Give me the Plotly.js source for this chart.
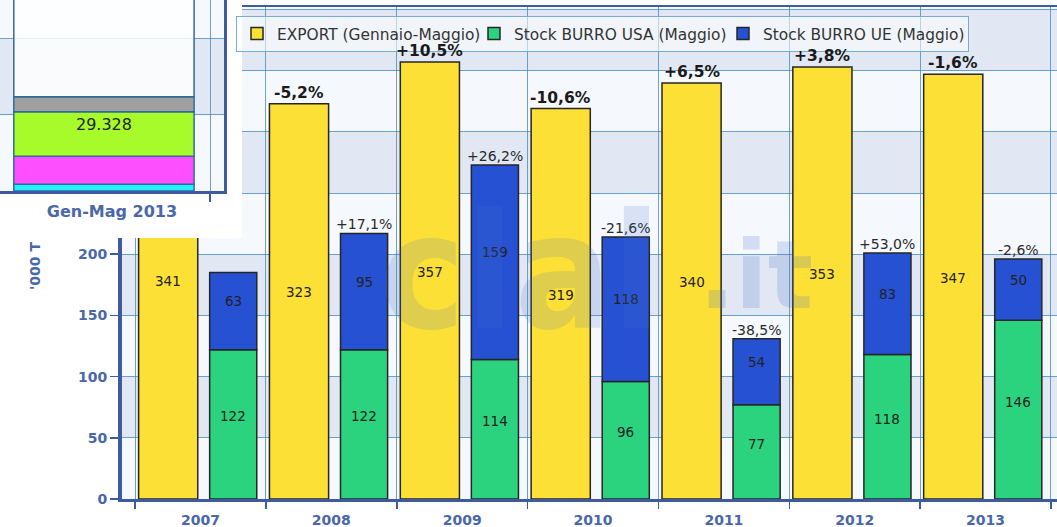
<!DOCTYPE html>
<html>
<head>
<meta charset="utf-8">
<script src="https://cdn.plot.ly/plotly-3.0.1.min.js"></script>
<style>html,body{margin:0;padding:0;background:#fff;}#chart{width:1057px;height:527px;}</style>
</head>
<body>
<div id="chart"></div>
<script>
// ---- data ----
const years = ['2007', '2008', '2009', '2010', '2011', '2012', '2013'];
const exportVals = [341, 323, 357, 319, 340, 353, 347];
const usaVals = [122, 122, 114, 96, 77, 118, 146];
const ueVals = [63, 95, 159, 118, 54, 83, 50];
const exportPct = ['', '-5,2%', '+10,5%', '-10,6%', '+6,5%', '+3,8%', '-1,6%'];
const stockPct = ['', '+17,1%', '+26,2%', '-21,6%', '-38,5%', '+53,0%', '-2,6%'];
const seriesNames = ['EXPORT (Gennaio-Maggio)', 'Stock BURRO USA (Maggio)', 'Stock BURRO UE (Maggio)'];

// inset (pasted fragment of another chart)
const insetCategory = ['Gen-Mag 2013'];
const insetValues = [4500, 18300, 29328, 9800, 90000];
const insetLabels = ['', '', '29.328', '', ''];

// ---- styling ----
const W = 1057, H = 527;
const plotL = 122, plotT = 7, plotB = 499;
const xRange = [-0.6, 6.546];
const yRange = [0, 402];
const xIdx = years.map((_, i) => i);
const expOffset = -0.473, expWidth = 0.452;
const stkOffset = 0.07, stkWidth = 0.36;
const axisBlue = '#3f5ba0';
const tickBlue = '#4a68a8';
const gridCol = 'rgba(60,135,190,0.75)';
const bandCol = '#e1e8f3';
const font = 'DejaVu Sans, Verdana, sans-serif';
const outline = {color: '#262626', width: 1.5};

const traces = [
  {type: 'bar', name: seriesNames[0], x: xIdx, y: exportVals, offset: expOffset, width: expWidth, legendwidth: 192,
   marker: {color: '#fde035', line: outline}, xaxis: 'x', yaxis: 'y', hoverinfo: 'y'},
  {type: 'bar', name: seriesNames[1], x: xIdx, y: usaVals, offset: stkOffset, width: stkWidth, legendwidth: 204,
   marker: {color: '#2bd37f', line: outline}, xaxis: 'x', yaxis: 'y', hoverinfo: 'y'},
  {type: 'bar', name: seriesNames[2], x: xIdx, y: ueVals, base: usaVals, offset: stkOffset, width: stkWidth, legendwidth: 200,
   marker: {color: '#2651d3', line: outline}, xaxis: 'x', yaxis: 'y', hoverinfo: 'y'},
  // cover for pasted inset
  {type: 'scatter', x: [], y: [], xaxis: 'x2', yaxis: 'y2', showlegend: false, hoverinfo: 'skip'}
];

// inset stacked bar
const insetColors = ['#22f0fa', '#fd4ffd', '#a8fb2a', '#a0a0a0', 'rgba(255,255,255,0.82)'];
let cum = 0;
insetValues.forEach((v, i) => {
  traces.push({type: 'bar', x: insetCategory, y: [v], base: [cum], width: 0.85,
    marker: {color: insetColors[i], line: {color: '#2f6c9c', width: 1.5}},
    text: [insetLabels[i]], textposition: 'inside', insidetextanchor: 'end',
    textfont: {family: font, size: 16, color: '#222'},
    xaxis: 'x3', yaxis: 'y3', showlegend: false, hoverinfo: 'skip'});
  cum += v;
});

const annotations = [];
xIdx.forEach((xi, i) => {
  const xe = xi + expOffset + expWidth / 2;
  const xs = xi + stkOffset + stkWidth / 2;
  const lab = {xref: 'x', yref: 'y', showarrow: false, font: {family: font, size: 13.5, color: '#222'}};
  annotations.push(Object.assign({}, lab, {x: xe, y: exportVals[i] / 2, yshift: 9, text: String(exportVals[i])}));
  annotations.push(Object.assign({}, lab, {x: xs, y: usaVals[i] / 2, yshift: 8, text: String(usaVals[i])}));
  annotations.push(Object.assign({}, lab, {x: xs, y: usaVals[i] + ueVals[i] / 2, yshift: 10, text: String(ueVals[i])}));
  if (exportPct[i]) annotations.push({xref: 'x', yref: 'y', x: xe, y: exportVals[i], yshift: 0,
    yanchor: 'bottom', showarrow: false, text: exportPct[i], font: {family: font, size: 15.5, color: '#1a1a1a', weight: 'bold'}});
  if (stockPct[i]) annotations.push({xref: 'x', yref: 'y', x: xs, y: usaVals[i] + ueVals[i], yshift: -1,
    yanchor: 'bottom', showarrow: false, text: stockPct[i], font: {family: font, size: 14, color: '#2a2a2a'}});
});
// y-axis title (visible part)
annotations.push({xref: 'paper', yref: 'paper', x: 25 / W, y: 1 - 266 / H, showarrow: false, textangle: -90,
  text: "'000 T", font: {family: font, size: 14, color: tickBlue, weight: 'bold'}});
// watermark
annotations.push({xref: 'paper', yref: 'paper', x: 520 / W, y: 1 - 272 / H, showarrow: false,
  text: 'clal', font: {family: 'DejaVu Sans Condensed, DejaVu Sans', size: 160, color: 'rgba(70,110,205,0.16)', weight: 'bold'}});
annotations.push({xref: 'paper', yref: 'paper', x: 815 / W, y: 1 - 275 / H, showarrow: false,
  text: '.it', font: {family: 'DejaVu Sans', size: 95, color: 'rgba(70,110,205,0.2)', weight: 'bold'}});

const shapes = [];
[[50, 100], [150, 200], [250, 300], [350, 400]].forEach(b => {
  shapes.push({type: 'rect', xref: 'paper', yref: 'y', x0: plotL / W, x1: 1, y0: b[0], y1: b[1],
    fillcolor: bandCol, line: {width: 0}, layer: 'below'});
});
// white cover of the pasted fragment
shapes.push({type: 'rect', xref: 'x2', yref: 'y2', x0: 0, x1: 1, y0: 0, y1: 1, fillcolor: '#ffffff', line: {width: 0}, layer: 'below'});
// inset band
shapes.push({type: 'rect', xref: 'x3', yref: 'y3', x0: -2, x1: 2, y0: 50000, y1: 100000, fillcolor: bandCol, line: {width: 0}, layer: 'below'});

const layout = {
  width: W, height: H,
  margin: {l: 0, r: 0, t: 0, b: 0},
  paper_bgcolor: '#ffffff',
  plot_bgcolor: '#f5f8fc',
  barmode: 'overlay',
  font: {family: font},
  showlegend: true,
  legend: {orientation: 'h', x: 236 / W, y: 1 - 16 / H, xanchor: 'left', yanchor: 'top',
    bgcolor: 'rgba(255,255,255,0.55)', bordercolor: '#79aed2', borderwidth: 1,
    font: {family: font, size: 15.4, color: '#333'}, traceorder: 'normal'},
  xaxis: {domain: [plotL / W, 1], anchor: 'y', type: 'linear', range: xRange,
    tickmode: 'array', tickvals: xIdx, ticktext: years,
    ticks: 'outside', ticklen: 7, tickwidth: 1, tickcolor: 'rgba(0,0,0,0)',
    showgrid: false, zeroline: false,
    minor: {tickmode: 'linear', tick0: 0.5, dtick: 1, ticks: 'outside', ticklen: 7, tickwidth: 1.5,
      tickcolor: axisBlue, showgrid: true, gridcolor: gridCol, gridwidth: 1},
    showline: true, linecolor: axisBlue, linewidth: 2.5, mirror: true,
    tickfont: {family: font, size: 14, color: tickBlue, weight: 'bold'}, fixedrange: true},
  yaxis: {domain: [1 - plotB / H, 1 - plotT / H], anchor: 'x', range: yRange, tick0: 0, dtick: 50,
    ticks: 'outside', ticklen: 8, tickwidth: 1.5, tickcolor: axisBlue,
    showgrid: true, gridcolor: gridCol, gridwidth: 1, zeroline: false,
    showline: true, linecolor: axisBlue, linewidth: 4,
    tickfont: {family: font, size: 14, color: tickBlue, weight: 'bold'}, fixedrange: true},
  xaxis2: {domain: [0, 242 / W], anchor: 'y2', range: [0, 1], visible: false, fixedrange: true},
  yaxis2: {domain: [1 - 238 / H, 1], anchor: 'x2', range: [0, 1], visible: false, fixedrange: true},
  xaxis3: {domain: [0, 224 / W], anchor: 'y3', type: 'category', range: [-0.49, 0.566], tickson: 'boundaries',
    ticks: 'outside', ticklen: 8, tickwidth: 1.5, tickcolor: axisBlue,
    showgrid: true, gridcolor: gridCol, showline: true, linecolor: axisBlue, linewidth: 3,
    ticklabelshift: 8, ticklabelstandoff: 4,
    tickfont: {family: font, size: 16, color: tickBlue, weight: 'bold'}, fixedrange: true},
  yaxis3: {domain: [1 - 191 / H, 1], anchor: 'x3', range: [0, 125500], dtick: 50000, side: 'right',
    showgrid: true, gridcolor: gridCol, zeroline: false, showticklabels: false, ticks: '',
    showline: true, linecolor: axisBlue, linewidth: 3, fixedrange: true},
  annotations: annotations,
  shapes: shapes
};

Plotly.newPlot('chart', traces, layout, {displayModeBar: false, staticPlot: true});
</script>
</body>
</html>
